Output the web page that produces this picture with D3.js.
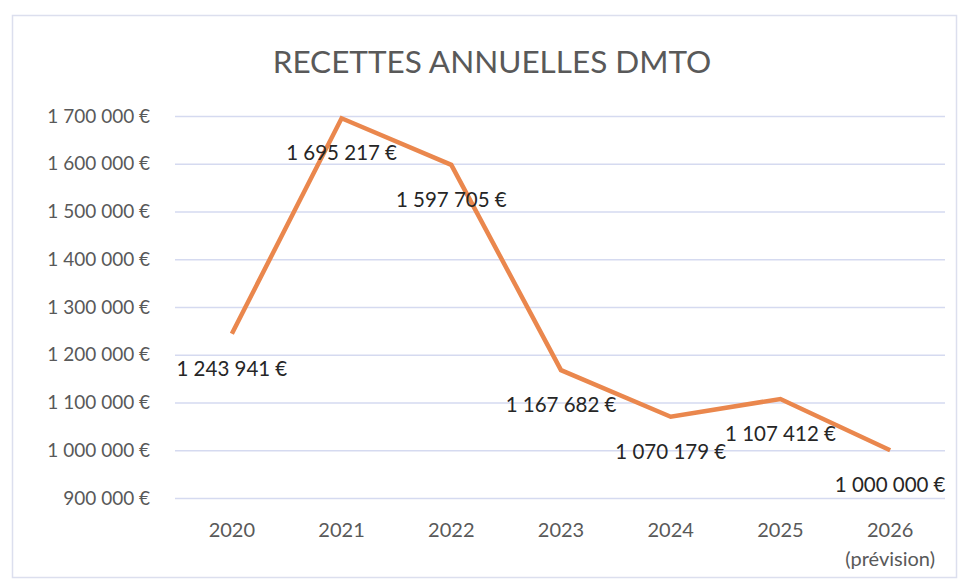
<!DOCTYPE html>
<html><head><meta charset="utf-8">
<script src="https://cdn.jsdelivr.net/npm/d3@7"></script>
<style>body{margin:0;background:#fff}svg{display:block}</style>
</head><body>
<svg id="c" width="961" height="582"></svg>
<script>
const categories = ["2020","2021","2022","2023","2024","2025","2026"];
const subLabels = ["","","","","","","(prévision)"];
const values = [1243941, 1695217, 1597705, 1167682, 1070179, 1107412, 1000000];
const yTicks = [900000,1000000,1100000,1200000,1300000,1400000,1500000,1600000,1700000];
const title = "RECETTES ANNUELLES DMTO";

const svg = d3.select("#c");
const font = "Lato, 'Open Sans', sans-serif";
const loc = d3.formatLocale({decimal:",", thousands:"\u00a0", grouping:[3], currency:["","\u202f€"]});
const fmt = v => loc.format(",.0f")(v) + "\u202f€";

svg.append("rect").attr("x",12.5).attr("y",15.5).attr("width",944).attr("height",562)
  .attr("fill","#fff").attr("stroke","#dcdfee").attr("stroke-width",1.5);

const x = d3.scaleBand().domain(categories).range([177,945]);
const y = d3.scaleLinear().domain([900000,1700000]).range([498,116]);
const cx = d => x(d) + x.bandwidth()/2;

svg.append("text").attr("x",492).attr("y",73).attr("text-anchor","middle")
  .attr("font-family",font).attr("font-size",31.5).attr("fill","#595959").text(title);

const yAxis = d3.axisLeft(y).tickValues(yTicks).tickSize(-(945-175)).tickFormat(fmt);
const gy = svg.append("g").attr("transform","translate(175,0)").call(yAxis);
gy.select(".domain").remove();
gy.selectAll(".tick line").attr("stroke","#d5daf0").attr("stroke-width",1.5);
gy.selectAll(".tick text").attr("x",-25).attr("font-family",font).attr("font-size",19).attr("fill","#595959");

const xAxis = d3.axisBottom(x).tickSize(0).tickPadding(0);
const gx = svg.append("g").attr("transform","translate(0,531)").call(xAxis);
gx.select(".domain").remove();
gx.selectAll(".tick text").attr("font-family",font).attr("font-size",20).attr("fill","#595959").attr("dy","0.32em");
gx.selectAll(".tick").append("text").attr("y",29).attr("dy","0.32em")
  .attr("font-family",font).attr("font-size",20).attr("fill","#595959").attr("text-anchor","middle")
  .text((d,i)=>subLabels[i]);

const pts = categories.map((c,i)=>({c, v:values[i]}));
svg.append("path").datum(pts)
  .attr("d", d3.line().x(d=>cx(d.c)).y(d=>y(d.v)))
  .attr("fill","none").attr("stroke","#ea874d").attr("stroke-width",4.5).attr("stroke-linejoin","miter");

svg.append("g").selectAll("text").data(pts).join("text")
  .attr("x", d=>cx(d.c)).attr("y", d=>y(d.v)+42)
  .attr("text-anchor","middle").attr("font-family",font).attr("font-size",20.5)
  .attr("fill","#262626").text(d=>fmt(d.v));
</script>
</body></html>
